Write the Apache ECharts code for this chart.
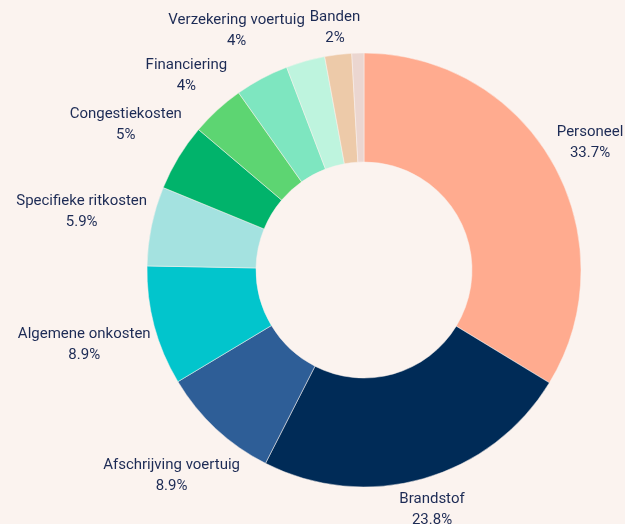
<!DOCTYPE html>
<html>
<head>
<meta charset="utf-8">
<script src="https://cdn.jsdelivr.net/npm/echarts@6/dist/echarts.min.js"></script>
<style>
    html, body { margin: 0; padding: 0; background: #fbf3ef; }
    #main { width: 625px; height: 524px; }
</style>
</head>
<body>
<div id="main"></div>
<script>
// kostenverdeling (percentages)
var categories = ['Personeel', 'Brandstof', 'Afschrijving voertuig', 'Algemene onkosten',
    'Specifieke ritkosten', 'Congestiekosten', 'Financiering', 'Verzekering voertuig',
    'Overige kosten', 'Banden', 'Onderhoud'];
var values = [33.7, 23.8, 8.9, 8.9, 5.9, 5, 4, 4, 2.9, 2, 0.9];
// these two slices have no label in the original
var unlabeled = ['Overige kosten', 'Onderhoud'];
var colors = ['#ffab8f', '#002b57', '#2e5e97', '#02c5cc', '#a4e2e0', '#01b36b',
    '#5dd572', '#7ee6c0', '#bef4de', '#edcaa9', '#ebd6d0'];

var cx = 364, cy = 270, rIn = 108, rOut = 217, labelGap = 3;
var total = values.reduce(function(a, b) { return a + b; }, 0);

function midAngle(i) {
    var before = 0;
    for (var j = 0; j < i; j++) before += values[j];
    return (before + values[i] / 2) / total * 2 * Math.PI;
}

var myChart = echarts.init(document.getElementById('main'));

var option = {
    backgroundColor: '#fbf3ef',
    animation: false,
    color: colors,
    series: [{
        type: 'pie',
        center: [cx, cy],
        radius: [rIn, rOut],
        startAngle: 90,
        clockwise: true,
        avoidLabelOverlap: false,
        itemStyle: {
            borderColor: '#fbf3ef',
            borderWidth: 0.5
        },
        label: {
            show: true,
            position: 'outside',
            color: '#1d2b55',
            fontFamily: 'Roboto',
            fontSize: 15,
            lineHeight: 21,
            formatter: function(p) {
                return p.name + '\n' + p.value + '%';
            }
        },
        labelLine: { show: false },
        labelLayout: function(p) {
            var a = midAngle(p.dataIndex);
            var ux = Math.sin(a), uy = -Math.cos(a);
            var w = p.labelRect.width, h = p.labelRect.height;
            var d = rOut + labelGap + w / 2 * Math.abs(ux) + h / 2 * Math.abs(uy);
            return {
                x: cx + ux * d,
                y: cy + uy * d,
                align: 'center',
                verticalAlign: 'middle'
            };
        },
        data: categories.map(function(name, i) {
            var item = { name: name, value: values[i] };
            if (unlabeled.indexOf(name) >= 0) item.label = { show: false };
            return item;
        })
    }]
};

myChart.setOption(option);
</script>
</body>
</html>
